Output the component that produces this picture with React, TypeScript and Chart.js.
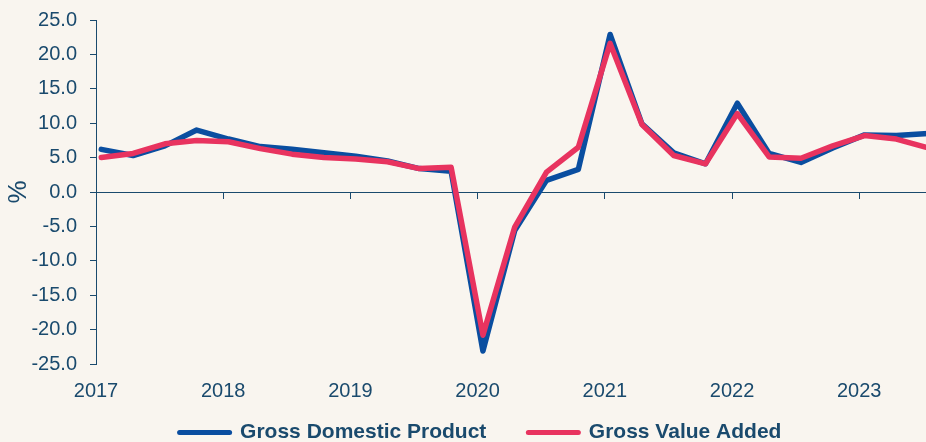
import React, { useEffect, useRef } from "react";
import { Chart, registerables } from "chart.js";

Chart.register(...registerables);

const periods = [
  "2017 Q1", "2017 Q2", "2017 Q3", "2017 Q4",
  "2018 Q1", "2018 Q2", "2018 Q3", "2018 Q4",
  "2019 Q1", "2019 Q2", "2019 Q3", "2019 Q4",
  "2020 Q1", "2020 Q2", "2020 Q3", "2020 Q4",
  "2021 Q1", "2021 Q2", "2021 Q3", "2021 Q4",
  "2022 Q1", "2022 Q2", "2022 Q3", "2022 Q4",
  "2023 Q1", "2023 Q2", "2023 Q3",
];

const gdp = [6.2, 5.3, 6.7, 9.0, 7.7, 6.6, 6.2, 5.7, 5.2, 4.5, 3.4, 3.0, -23.1, -5.6, 1.7, 3.3, 22.9, 9.9, 5.7, 4.1, 12.9, 5.6, 4.3, 6.4, 8.3, 8.2, 8.5];
const gva = [5.0, 5.6, 7.0, 7.5, 7.3, 6.3, 5.5, 5.0, 4.8, 4.4, 3.4, 3.6, -20.8, -5.1, 2.9, 6.5, 21.6, 9.8, 5.3, 4.1, 11.4, 5.1, 4.9, 6.7, 8.2, 7.7, 6.4];

const seriesNames = ["Gross Domestic Product", "Gross Value Added"];
const yearTicks = [2017, 2018, 2019, 2020, 2021, 2022, 2023];
const yTicks = { min: -25, max: 25, step: 5 };
const xRange = { min: 2017, max: 2023.8 };

const TEXT = "#1a4a6d";
const BLUE = "#0a4ea0";
const RED = "#e8335f";
const BG = "#f9f5ef";
const FONT = "'Liberation Sans', Arial, sans-serif";

function periodToX(p: string): number {
  const [y, q] = p.split(" ");
  const qi = parseInt(q.slice(1), 10) - 1;
  return parseInt(y, 10) + (qi * 3 + 0.5) / 12;
}

const setYearTicks = (s: any) => {
  s.ticks = yearTicks.map((v) => ({ value: v }));
};

export default function App() {
  const ref = useRef<HTMLCanvasElement | null>(null);

  useEffect(() => {
    if (!ref.current) return;
    const xs = periods.map(periodToX);
    const chart = new Chart(ref.current, {
      type: "line",
      data: {
        datasets: [
          {
            label: seriesNames[0],
            data: xs.map((x, i) => ({ x, y: gdp[i] })),
            borderColor: BLUE,
            backgroundColor: BLUE,
            borderWidth: 5.5,
            pointRadius: 0,
            borderJoinStyle: "round",
            borderCapStyle: "round",
            tension: 0,
            order: 2,
            xAxisID: "x",
            yAxisID: "y",
          },
          {
            label: seriesNames[1],
            data: xs.map((x, i) => ({ x, y: gva[i] })),
            borderColor: RED,
            backgroundColor: RED,
            borderWidth: 5.5,
            pointRadius: 0,
            borderJoinStyle: "round",
            borderCapStyle: "round",
            tension: 0,
            order: 1,
            xAxisID: "x",
            yAxisID: "y",
          },
        ],
      },
      options: {
        responsive: false,
        animation: false,
        devicePixelRatio: 1,
        layout: { padding: { top: 20, left: 0, right: 0, bottom: 0 } },
        plugins: {
          tooltip: { enabled: false },
          legend: {
            display: true,
            position: "bottom",
            labels: {
              usePointStyle: true,
              pointStyle: "line",
              pointStyleWidth: 50,
              padding: 42,
              color: TEXT,
              font: { family: FONT, size: 21, weight: "bold" },
              generateLabels: (c: any) =>
                c.data.datasets.map((ds: any, i: number) => ({
                  text: ds.label,
                  fillStyle: ds.borderColor,
                  strokeStyle: ds.borderColor,
                  lineWidth: 5,
                  lineCap: "round",
                  pointStyle: "line",
                  hidden: false,
                  datasetIndex: i,
                  fontColor: TEXT,
                })),
            },
          },
        },
        scales: {
          x: {
            type: "linear",
            position: "bottom",
            min: xRange.min,
            max: xRange.max,
            afterBuildTicks: setYearTicks,
            afterFit: (s: any) => {
              s.height = 16;
            },
            border: { display: false },
            grid: { display: false },
            ticks: {
              autoSkip: false,
              maxRotation: 0,
              mirror: true,
              padding: -39,
              color: TEXT,
              font: { family: FONT, size: 20 },
              callback: (v: any) => String(v),
            },
          },
          x0: {
            type: "linear",
            position: { y: 0 } as any,
            min: xRange.min,
            max: xRange.max,
            afterBuildTicks: setYearTicks,
            border: { display: true, color: TEXT, width: 1 },
            grid: {
              display: true,
              drawOnChartArea: false,
              drawTicks: true,
              tickLength: 6,
              color: TEXT,
            },
            ticks: { display: false },
          },
          y: {
            type: "linear",
            position: "left",
            min: yTicks.min,
            max: yTicks.max,
            afterFit: (s: any) => {
              s.width = 96;
              s.paddingTop = 0;
              s.paddingBottom = 0;
            },
            border: { display: true, color: TEXT, width: 1 },
            grid: {
              display: true,
              drawOnChartArea: false,
              drawTicks: true,
              tickLength: 6,
              color: TEXT,
            },
            title: {
              display: true,
              text: "%",
              color: TEXT,
              font: { family: FONT, size: 26 },
              padding: { top: 3, bottom: 0 },
            },
            ticks: {
              stepSize: yTicks.step,
              padding: 13,
              color: TEXT,
              font: { family: FONT, size: 20 },
              callback: (v: any) => Number(v).toFixed(1),
            },
          },
        },
      },
    } as any);
    return () => chart.destroy();
  }, []);

  return (
    <div
      style={{
        position: "fixed",
        left: 0,
        top: 0,
        width: 926,
        height: 442,
        overflow: "hidden",
        background: BG,
      }}
    >
      <canvas ref={ref} width={961} height={453} style={{ display: "block" }} />
    </div>
  );
}
